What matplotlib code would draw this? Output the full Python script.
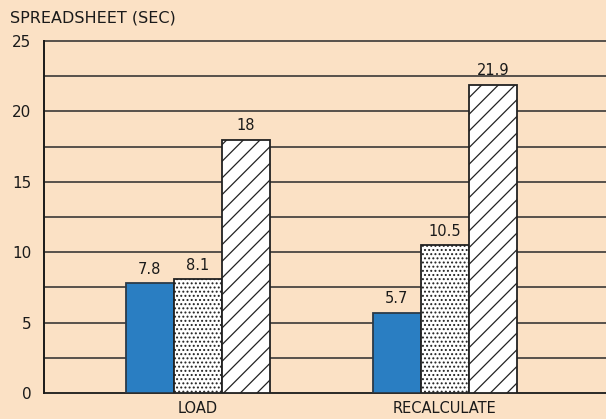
import matplotlib.pyplot as plt
import numpy as np

# Data
groups = ['LOAD', 'RECALCULATE']
series_a = [7.8, 5.7]     # solid blue
series_b = [8.1, 10.5]    # dotted
series_c = [18, 21.9]     # hatched
labels_a = ['7.8', '5.7']
labels_b = ['8.1', '10.5']
labels_c = ['18', '21.9']

bg = '#fbe1c5'
plt.rcParams['hatch.linewidth'] = 0.9

fig = plt.figure(figsize=(6.06, 4.19), dpi=100)
fig.patch.set_facecolor(bg)
ax = fig.add_axes([44 / 606, 1 - 393 / 419, 1 - 44 / 606, (393 - 41) / 419])
ax.set_facecolor(bg)

x = np.arange(len(groups))
w = 48 / 247

ax.bar(x - w, series_a, w, color='#2a7ec2', edgecolor='#2b3a48', linewidth=1.3, zorder=3)
ax.bar(x, series_b, w, color='white', edgecolor='#222222', hatch='....', linewidth=1.3, zorder=3)
ax.bar(x + w, series_c, w, color='white', edgecolor='#222222', hatch='//', linewidth=1.3, zorder=3)

for xs, vals, labs in [(x - w, series_a, labels_a), (x, series_b, labels_b), (x + w, series_c, labels_c)]:
    for xi, v, lab in zip(xs, vals, labs):
        ax.text(xi, v + 0.45, lab, ha='center', va='bottom', fontsize=10.5, color='#1a1a1a')

# gridlines every 2.5
for g in np.arange(2.5, 25.1, 2.5):
    ax.axhline(g, color='#2a2a2a', linewidth=1.1, zorder=1, clip_on=False)

ax.set_xlim(-0.623, 1.652)
ax.set_ylim(0, 25)
ax.set_yticks([0, 5, 10, 15, 20, 25])
ax.set_xticks(x)
ax.set_xticklabels(groups, fontsize=10.5)
ax.tick_params(axis='both', length=0, colors='#1a1a1a')
ax.tick_params(axis='y', pad=9, labelsize=11)
ax.tick_params(axis='x', pad=6)

ax.spines['top'].set_visible(False)
ax.spines['right'].set_visible(False)
ax.spines['left'].set_color('#1a1a1a')
ax.spines['bottom'].set_color('#1a1a1a')
ax.spines['left'].set_linewidth(1.4)
ax.spines['bottom'].set_linewidth(1.3)

fig.text(10 / 606, 1 - 18 / 419, 'SPREADSHEET (SEC)', fontsize=11.5, va='center', ha='left', color='#1a1a1a')

fig.savefig('out.png', dpi=100, facecolor=bg)
